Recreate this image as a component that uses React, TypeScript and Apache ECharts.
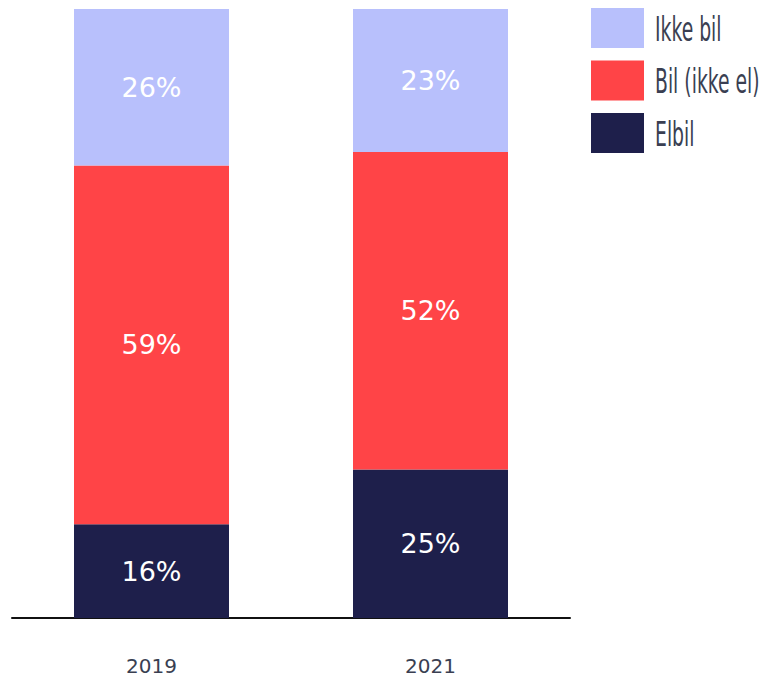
import React, { useEffect, useRef } from "react";
import * as echarts from "echarts";

const years = ["2019", "2021"];
const elbil = [15.4, 24.4];
const bilIkkeEl = [58.9, 52.1];
const ikkeBil = [25.7, 23.5];
const elbilLabels = ["16%", "25%"];
const bilIkkeElLabels = ["59%", "52%"];
const ikkeBilLabels = ["26%", "23%"];
const legendNames = ["Ikke bil", "Bil (ikke el)", "Elbil"];
const legendColors = ["#b8c0fc", "#ff4447", "#1e1f4b"];

const FONT = "'DejaVu Sans', sans-serif";
const TEXT_COLOR = "#3a3f52";

export default function App() {
  const ref = useRef<HTMLDivElement>(null);
  useEffect(() => {
    if (!ref.current) return;
    const chart = echarts.init(ref.current, undefined, { renderer: "svg" });
    const mkLabel = (labels: string[]) => ({
      show: true,
      position: "inside" as const,
      color: "#ffffff",
      fontFamily: FONT,
      fontSize: 27,
      formatter: (p: any) => labels[p.dataIndex],
    });
    const legendGraphics: any[] = [];
    legendNames.forEach((name, i) => {
      const top = 8 + i * 52.5;
      legendGraphics.push({
        type: "rect",
        shape: { x: 591, y: top, width: 53, height: 40 },
        style: { fill: legendColors[i] },
      });
      legendGraphics.push({
        type: "text",
        x: 655,
        y: top + 21,
        scaleX: 0.57,
        style: {
          text: name,
          fill: TEXT_COLOR,
          fontFamily: FONT,
          fontSize: 33,
          verticalAlign: "middle",
          align: "left",
        },
      });
    });
    chart.setOption({
      animation: false,
      backgroundColor: "#ffffff",
      grid: { left: 12, right: 197, top: 9, bottom: 66, containLabel: false },
      graphic: legendGraphics,
      xAxis: {
        type: "category",
        data: years,
        axisLine: { show: true, lineStyle: { color: "#111111", width: 2 } },
        axisTick: { show: false },
        axisLabel: {
          fontFamily: FONT,
          fontSize: 20,
          color: TEXT_COLOR,
          margin: 38,
        },
      },
      yAxis: {
        type: "value",
        min: 0,
        max: 100,
        show: false,
        splitLine: { show: false },
      },
      series: [
        {
          name: "Elbil",
          type: "bar",
          stack: "total",
          barWidth: 155,
          data: elbil,
          itemStyle: { color: legendColors[2] },
          label: mkLabel(elbilLabels),
        },
        {
          name: "Bil (ikke el)",
          type: "bar",
          stack: "total",
          barWidth: 155,
          data: bilIkkeEl,
          itemStyle: { color: legendColors[1] },
          label: mkLabel(bilIkkeElLabels),
        },
        {
          name: "Ikke bil",
          type: "bar",
          stack: "total",
          barWidth: 155,
          data: ikkeBil,
          itemStyle: { color: legendColors[0] },
          label: mkLabel(ikkeBilLabels),
        },
      ],
    });
    return () => chart.dispose();
  }, []);
  return (
    <div
      ref={ref}
      style={{ position: "fixed", left: 0, top: 0, width: 767, height: 684 }}
    />
  );
}
